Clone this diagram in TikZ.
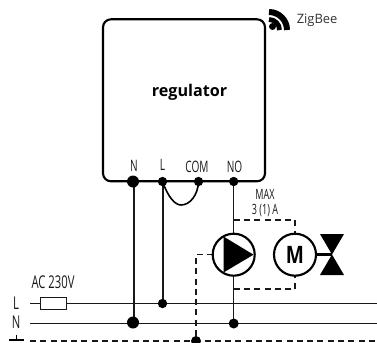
\documentclass[tikz,border=0pt]{standalone}
\usepackage{fontspec}
\setmainfont{Open Sans}
\newfontfamily\condfont[FakeStretch=0.64]{Open Sans}
\newfontfamily\motorfont[FakeStretch=0.8]{Open Sans}
\usetikzlibrary{calc}
\tikzset{
  x=0.75pt,y=-0.75pt,
  wire/.style={line width=1.35pt,draw=black!90},
  thinwire/.style={line width=1.15pt,draw=black!90},
  dashwire/.style={line width=0.9pt,draw=black!90,dash pattern=on 4.5pt off 3.2pt},
  bigdot/.style={circle,fill=black,inner sep=0pt,minimum size=9pt},
  meddot/.style={circle,fill=black,inner sep=0pt,minimum size=7pt},
  lab/.style={inner sep=0pt,font=\condfont\fontsize{11.8}{13}\selectfont,text=black!90},
  machine/.style={circle,draw=black,line width=1.6pt,fill=white,inner sep=0pt,minimum size=31.5pt},
}
\begin{document}
\begin{tikzpicture}
\useasboundingbox (0,0) rectangle (377,342);
% regulator box
\node[draw=black,line width=1.6pt,rounded corners=6pt,minimum width=121.5pt,minimum height=121.5pt,inner sep=0pt] (reg) at (184,100.3) {};
\node[inner sep=0pt,font=\bfseries\fontsize{12.1}{14}\selectfont] (regl) at (189.5,92) {regulator};
% ZigBee
\coordinate (zb) at (269,30);
\fill[black] (272.5,26.5) circle (2.6pt);
\draw[line width=3.6pt] ($(zb)+(0,-10.5)$) arc[start angle=90,end angle=0,radius=7.9pt];
\draw[line width=4.5pt] ($(zb)+(0,-18)$) arc[start angle=90,end angle=0,radius=13.5pt];
\node[inner sep=0pt,anchor=west,font=\fontsize{9.7}{11}\selectfont,text=black!80] (zbl) at (296.5,20) {ZigBee};
% terminals
\coordinate (tN) at (133,181.5);
\coordinate (tL) at (162.5,181.5);
\coordinate (tC) at (198.5,181.5);
\coordinate (tO) at (233.7,181.5);
\node[lab] (lN) at (134,165.5) {N};
\node[lab] (lL) at (162.5,164.5) {L};
\node[lab] (lC) at (197,167) {COM};
\node[lab] (lO) at (234.5,167) {NO};
% supply lines
\coordinate (Ls) at (30,303.5);
\coordinate (Le) at (377,303.5);
\coordinate (Ns) at (30,323.5);
\coordinate (Ne) at (377,323.5);
\coordinate (Ps) at (30,341);
\coordinate (Pe) at (377,341);
\coordinate (jL) at (162.5,303.5);
\coordinate (jN) at (133,322.5);
\coordinate (jO) at (233.7,323.5);
\coordinate (jP) at (196,341);
\draw[thinwire] (Ls) -- (Le);
\draw[thinwire] (Ns) -- (Ne);
\draw[dashwire] (Ps) -- (Pe);
\node[draw=black!90,line width=0.9pt,fill=white,minimum width=19pt,minimum height=9.5pt,inner sep=0pt] (fuse) at (53.5,303.5) {};
% ground
\coordinate (g1) at (9,340);
\coordinate (g2) at (24,340);
\coordinate (g3) at (16.5,335);
\coordinate (g4) at (16.5,340);
\draw[line width=1.1pt] (g1) -- (g2);
\draw[line width=1pt] (g3) -- (g4);
\node[lab,font=\condfont\fontsize{13.2}{14}\selectfont] (aL) at (16,303) {L};
\node[lab,font=\condfont\fontsize{13.2}{14}\selectfont] (aN) at (16,322) {N};
\node[lab,font=\condfont\fontsize{13.2}{14}\selectfont] (ac) at (53,282) {AC 230V};
% verticals
\draw[wire] (133.8,181.5) -- (133.8,322.5);
\draw[wire] (163,181.5) -- (163,303.5);
\draw[line width=1.2pt] (tL) .. controls (168,197) and (175,205) .. (181,205) .. controls (190,205) and (198,195) .. (tC);
% machines positions
\coordinate (pc) at (233.7,254.7);
\coordinate (mc) at (295,254.7);
\draw[thinwire] (tO) -- (pc);
\draw[thinwire] (pc) -- (jO);
% dashed
\coordinate (d1) at (233.7,220);
\coordinate (d2) at (295,220);
\coordinate (d3) at (295,240);
\coordinate (d4) at (233.7,289);
\coordinate (d5) at (295,289);
\coordinate (d6) at (295,270);
\coordinate (d7) at (196,254.7);
\draw[dashwire] (d1) -- (d2) -- (d3);
\draw[dashwire] (d4) -- (d5) -- (d6);
\draw[dashwire] (pc) -- (d7) -- (jP);
% pump
\node[machine] (pump) at (pc) {};
\fill[black] (223.5,236.5) -- (253.5,254.7) -- (223.5,272.5) -- cycle;
% motor
\node[machine] (motor) at (mc) {};
\node[inner sep=0pt,font=\motorfont\bfseries\fontsize{18}{20}\selectfont] (ml) at (295,255) {M};
% valve
\coordinate (vc) at (332,254.7);
\fill[black] (320,234) -- (344,234) -- (320,275) -- (344,275) -- cycle;
\draw[line width=2.4pt] (motor.east) -- (vc);
% dots
\node[bigdot] at (tN) {};
\node[meddot] at (tL) {};
\node[meddot] at (tC) {};
\node[meddot] at (tO) {};
\node[meddot] at (jL) {};
\node[bigdot] at (jN) {};
\node[meddot,minimum size=7.5pt] at (jO) {};
\node[meddot,minimum size=7.5pt] at (jP) {};
% max
\node[lab,font=\condfont\fontsize{10.6}{10.7}\selectfont,align=center] (mx) at (265,203) {MAX\\3 (1) A};
\end{tikzpicture}
\end{document}
